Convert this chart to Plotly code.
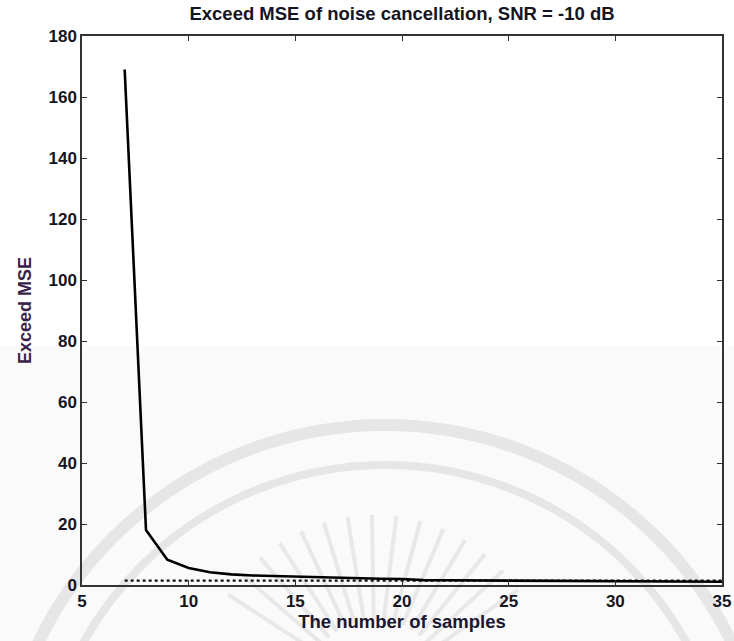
import math
import plotly.graph_objects as go

# Number of samples used by the adaptive filter
samples = [7, 8, 9, 10, 11, 12, 13, 14, 15, 16, 17, 18, 19, 20, 21,
           22, 23, 24, 25, 26, 27, 28, 29, 30, 31, 32, 33, 34, 35]

# Measured excess MSE for each sample count
excess_mse = [169, 18, 8.3, 5.6, 4.2, 3.5, 3.1, 2.9, 2.7, 2.5, 2.3, 2.2, 2.05, 1.95, 1.6,
              1.55, 1.5, 1.5, 1.5, 1.45, 1.45, 1.4, 1.15, 1.1, 1.1, 1.1, 1.05, 1.05, 1.05]

# Reference (theoretical) excess MSE level
ref_x = [7, 35]
ref_mse = [1.45, 1.45]

x_ticks = [5, 10, 15, 20, 25, 30, 35]
y_ticks = [0, 20, 40, 60, 80, 100, 120, 140, 160, 180]

font_family = "Liberation Sans, Arial, sans-serif"
text_color = "#15151f"

W, H = 734, 641
L, R, T, B = 82, 722, 36, 585  # plot-area edges in pixels


def px(x):
    return (x - L) / (R - L)


def py(y):
    return (B - y) / (B - T)


fig = go.Figure()

fig.add_trace(go.Scatter(
    x=ref_x, y=ref_mse, mode="lines",
    line=dict(color="#111111", width=2.2, dash="dot"),
    showlegend=False, hoverinfo="skip",
))

fig.add_trace(go.Scatter(
    x=samples, y=excess_mse, mode="lines",
    line=dict(color="#000000", width=2.6, shape="linear"),
    showlegend=False,
))

axis_common = dict(
    showgrid=False, zeroline=False, automargin=False,
    showline=True, linecolor="#333333", linewidth=1.5, mirror="ticks",
    ticks="inside", ticklen=5, tickwidth=1.2, tickcolor="#333333",
    tickfont=dict(family=font_family, size=17, color=text_color, weight="bold"),
)

# faint seal in the lower part of the page
shapes = [dict(type="rect", xref="paper", yref="paper",
               x0=px(-10), x1=px(W + 10), y0=py(H + 10), y1=py(345),
               fillcolor="#fafafa", line=dict(width=0), layer="below")]
cx, cy = 385, 810
for r, w in [(385, 12), (345, 8)]:
    shapes.append(dict(type="circle", xref="paper", yref="paper",
                       x0=px(cx - r), x1=px(cx + r), y0=py(cy + r), y1=py(cy - r),
                       line=dict(color="#e6e6e6", width=w), layer="below"))
rx, ry = 375, 690
for k in range(15):
    a = math.radians(35 + k * 8)
    shapes.append(dict(type="line", xref="paper", yref="paper",
                       x0=px(rx + 70 * math.cos(a)), y0=py(ry - 70 * math.sin(a)),
                       x1=px(rx + 175 * math.cos(a)), y1=py(ry - 175 * math.sin(a)),
                       line=dict(color="#e8e8e8", width=4), layer="below"))

fig.update_layout(
    width=W, height=H,
    margin=dict(l=L, r=W - R, t=T, b=H - B),
    paper_bgcolor="white", plot_bgcolor="rgba(0,0,0,0)",
    shapes=shapes,
    title=dict(
        text="<b>Exceed MSE of noise cancellation, SNR = -10 dB</b>",
        x=(L + R) / 2 / W, xanchor="center",
        y=1 - 14 / H, yanchor="middle",
        font=dict(family=font_family, size=18.5, color=text_color),
    ),
    xaxis=dict(
        range=[5, 35], tickvals=x_ticks, ticktext=[str(v) for v in x_ticks],
        title=dict(text="<b>The number of samples</b>", standoff=4,
                   font=dict(family=font_family, size=18.5, color="#1a1530")),
        **axis_common,
    ),
    yaxis=dict(
        range=[0, 180], tickvals=y_ticks, ticktext=[str(v) for v in y_ticks],
        title=dict(text="<b>Exceed MSE</b>", standoff=12,
                   font=dict(family=font_family, size=18, color="#3a1f4a")),
        **axis_common,
    ),
)

fig.write_html("out.html")
